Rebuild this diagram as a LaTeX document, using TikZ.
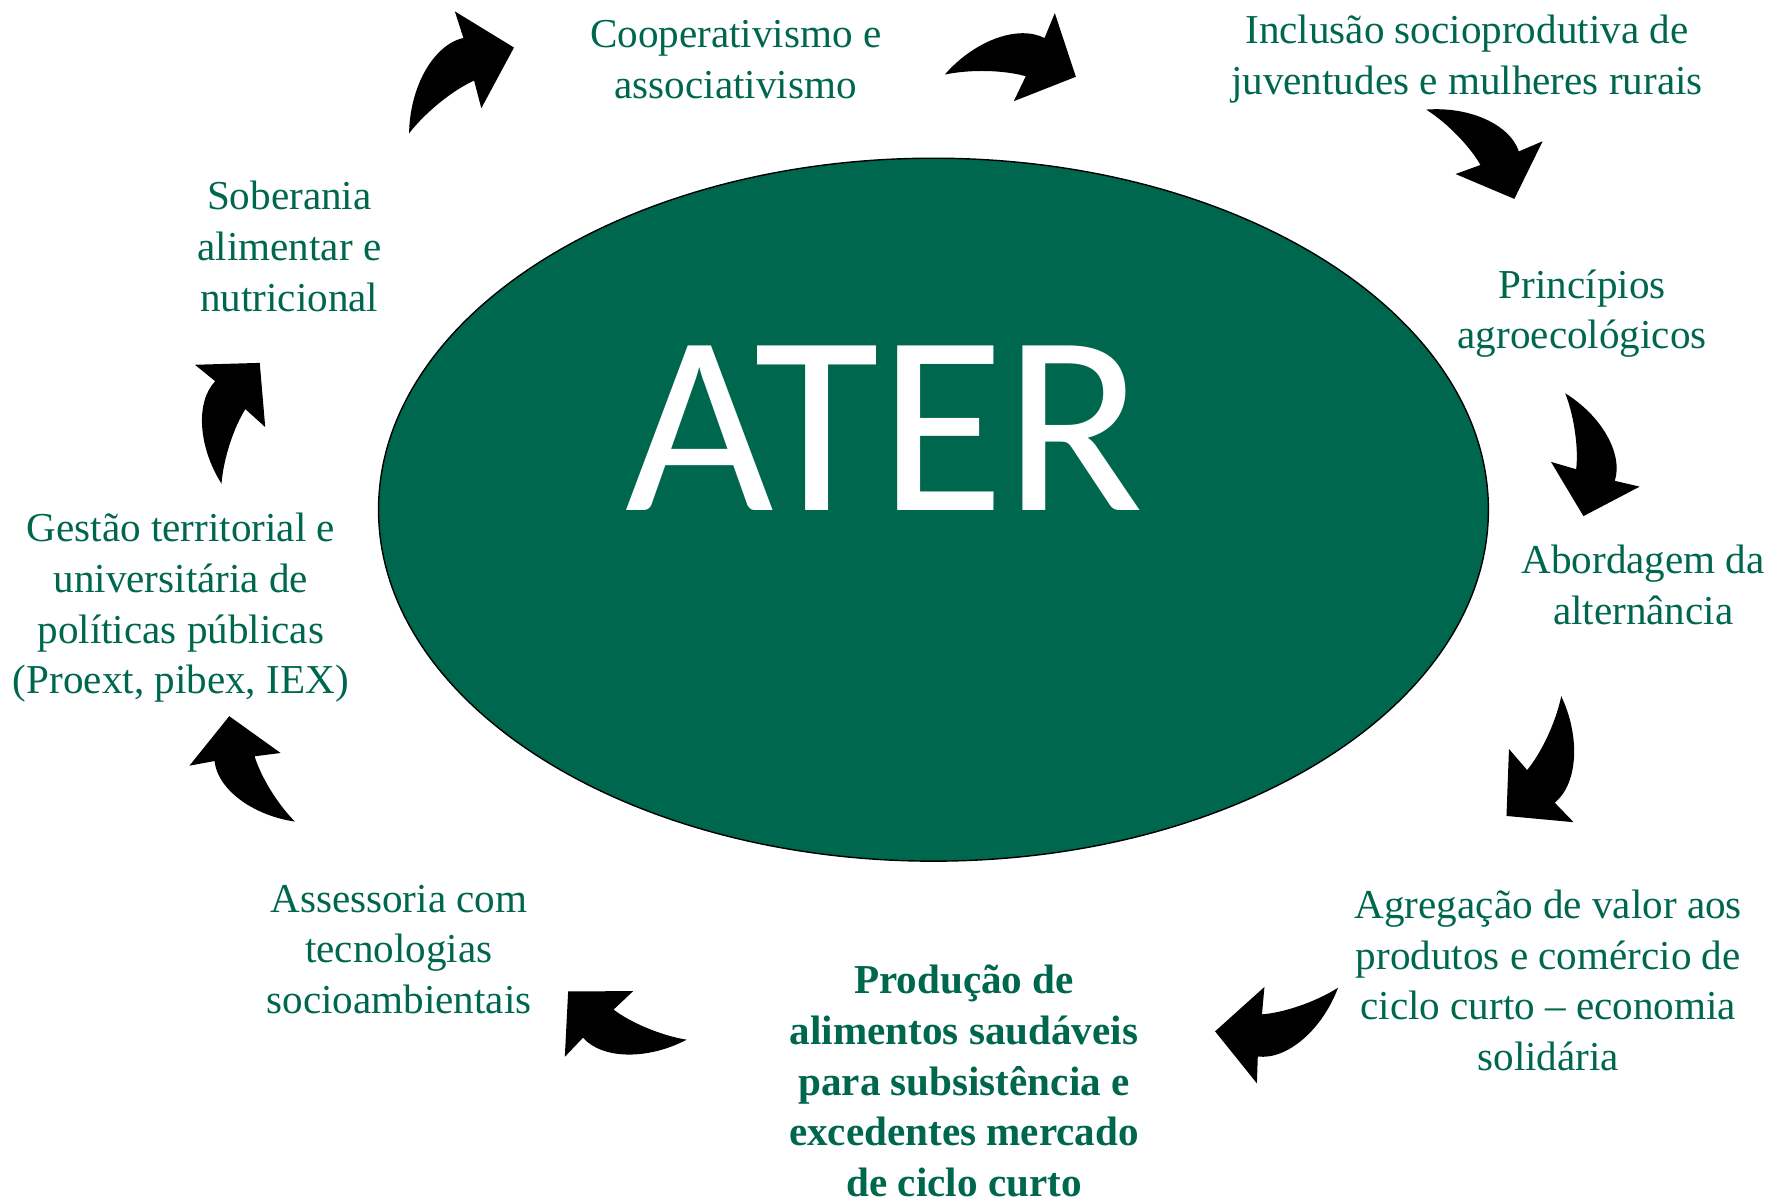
\documentclass[tikz,border=0pt]{standalone}
\usepackage{fontspec}
\setmainfont{Liberation Serif}
\newfontfamily\aterfont{Carlito}
\usetikzlibrary{shapes.geometric}
\definecolor{atergreen}{HTML}{00674F}
\tikzset{
  cycletext/.style={text=atergreen,align=center,inner sep=0pt,font=\fontsize{11.7}{14.4}\selectfont},
  cyclebold/.style={cycletext,font=\bfseries\fontsize{11.7}{14.4}\selectfont},
  turnarrow/.pic={
    \fill[black] (0,0) .. controls (38,-3) and (74,13) .. (82,37) -- (103,28) -- (78,79) -- (26,57) -- (48,49) .. controls (39,33) and (19,12) .. (0,0) -- cycle;
  }
}
\begin{document}
\begin{tikzpicture}[x=0.11301mm,y=-0.11301mm]
\useasboundingbox (0,0) rectangle (1568,1060);
%centre:
\node (core) at (826,451) [ellipse,draw=black,fill=atergreen,minimum width=110.98mm,minimum height=70.29mm,inner sep=0pt] {};
\node (ater) at (783,452) [anchor=base,text=white,inner sep=0pt,font=\aterfont\fontsize{73}{80}\selectfont] {ATER};

%texts round the ellipse:
\node (coop) at (651,52.5) [cycletext] {Cooperativismo e\\associativismo};
\node (inclusao) at (1298,52.5) [cycletext] {Inclusão socioprodutiva de\\juventudes e mulheres rurais};
\node (principios) at (1400,277.5) [cycletext] {Princípios\\agroecológicos};
\node (alternancia) at (1454,517.5) [cycletext] {Abordagem da\\alternância};
\node (agregacao) at (1370,867.5) [cycletext] {Agregação de valor aos\\produtos e comércio de\\ciclo curto -- economia\\solidária};
\node (producao) at (853,956.5) [cyclebold] {Produção de\\alimentos saudáveis\\para subsistência e\\excedentes mercado\\de ciclo curto};
\node (assessoria) at (353,840) [cycletext] {Assessoria com\\tecnologias\\socioambientais};
\node (gestao) at (160,538) [cycletext] {Gestão territorial e\\universitária de\\políticas públicas\\(Proext, pibex, IEX)};
\node (soberania) at (256,218) [cycletext] {Soberania\\alimentar e\\nutricional};

%arrows:
\pic[rotate=84.65,scale=1.08] at (362,118) {turnarrow};
\pic[rotate=44.4,scale=1.045] at (836,66) {turnarrow};
\pic at (1262,97) {turnarrow};
\pic[rotate=-36.2,scale=0.99] at (1385,348) {turnarrow};
\pic[rotate=-69.2,scale=1.05] at (1381.5,616) {turnarrow};
\pic[rotate=-115.1,scale=1.04] at (1184,874) {turnarrow};
\pic[rotate=-156.8,scale=1.02] at (607.6,920) {turnarrow};
\pic[rotate=167.3,scale=0.99] at (261,727) {turnarrow};
\pic[rotate=117.8,scale=1.01] at (196,428) {turnarrow};
\end{tikzpicture}
\end{document}
